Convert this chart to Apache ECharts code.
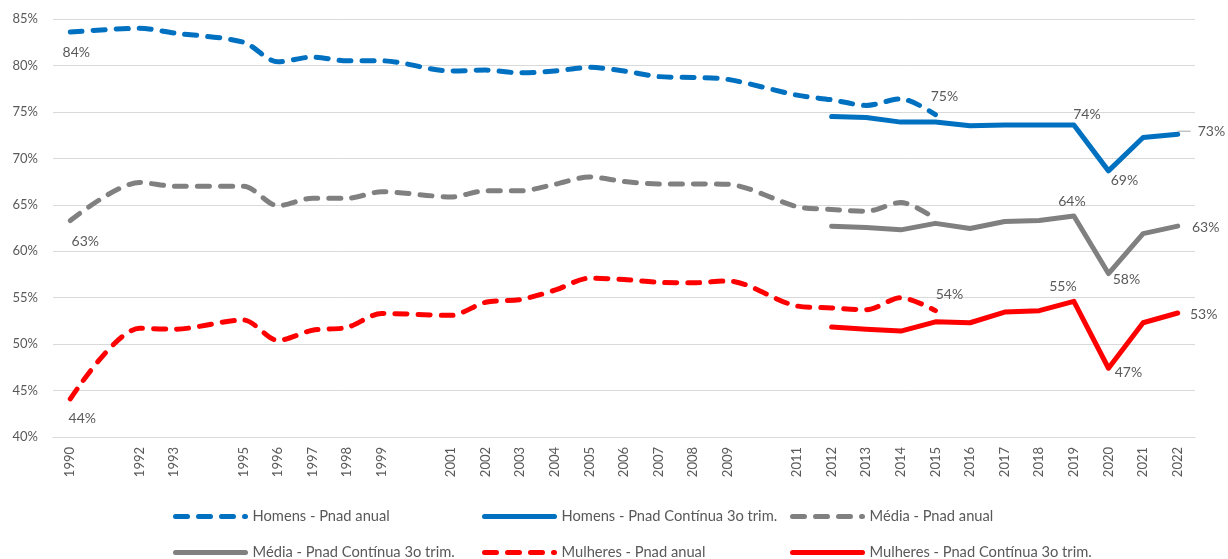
<!DOCTYPE html>
<html>
<head>
<meta charset="utf-8">
<script src="https://cdn.jsdelivr.net/npm/echarts@6/dist/echarts.min.js"></script>
<style>
  html, body { margin: 0; padding: 0; background: #fff; }
  #chart { width: 1228px; height: 559px; }
</style>
</head>
<body>
<div id="chart"></div>
<script>
// Category axis: one slot per year, labels only on surveyed years
const allYears = [];
for (let y = 1990; y <= 2022; y++) allYears.push(y);
const labeledYears = [1990, 1992, 1993, 1995, 1996, 1997, 1998, 1999, 2001, 2002, 2003, 2004,
  2005, 2006, 2007, 2008, 2009, 2011, 2012, 2013, 2014, 2015, 2016, 2017, 2018, 2019, 2020, 2021, 2022];

// Pnad anual (%)
const anualYears = [1990, 1992, 1993, 1995, 1996, 1997, 1998, 1999, 2001, 2002, 2003, 2004,
  2005, 2006, 2007, 2008, 2009, 2011, 2012, 2013, 2014, 2015];
const homensAnual = [83.6, 84.0, 83.5, 82.5, 80.4, 80.9, 80.5, 80.5, 79.4, 79.5, 79.2, 79.4,
  79.8, 79.4, 78.8, 78.7, 78.5, 76.8, 76.3, 75.7, 76.4, 74.7];
const mediaAnual = [63.3, 67.4, 67.0, 67.0, 64.9, 65.7, 65.7, 66.4, 65.85, 66.5, 66.5, 67.2,
  68.0, 67.5, 67.25, 67.25, 67.2, 64.8, 64.5, 64.3, 65.25, 63.5];
const mulheresAnual = [44.1, 51.7, 51.6, 52.6, 50.4, 51.5, 51.8, 53.3, 53.1, 54.5, 54.8, 55.8,
  57.1, 56.95, 56.65, 56.6, 56.8, 54.1, 53.9, 53.7, 55.0, 53.6];

// Pnad Contínua, 3o trimestre (%)
const continuaYears = [2012, 2013, 2014, 2015, 2016, 2017, 2018, 2019, 2020, 2021, 2022];
const homensContinua = [74.5, 74.4, 73.9, 73.9, 73.5, 73.6, 73.6, 73.6, 68.65, 72.25, 72.6];
const mediaContinua = [62.7, 62.55, 62.3, 63.0, 62.45, 63.2, 63.3, 63.8, 57.6, 61.9, 62.7];
const mulheresContinua = [51.85, 51.6, 51.4, 52.4, 52.3, 53.45, 53.6, 54.6, 47.4, 52.3, 53.35];

// Y axis ticks
const yMin = 40, yMax = 85, yStep = 5;

const BLUE = '#0070C0', GREY = '#808080', RED = '#FF0000';
const TEXT = '#595959';
const FONT = 'Lato, "Liberation Sans", sans-serif';

// Which points carry a value label, and where the label sits relative to the point
const labelSpots = {
  'Homens - Pnad anual': { 1990: [6, 20], 2015: [9, -18] },
  'Homens - Pnad Contínua 3o trim.': { 2019: [13, -10], 2020: [16, 10], 2022: 'leader' },
  'Média - Pnad anual': { 1990: [15, 21] },
  'Média - Pnad Contínua 3o trim.': { 2019: [-2, -14], 2020: [18, 6], 2022: [28, 1] },
  'Mulheres - Pnad anual': { 1990: [12, 20], 2015: [14, -16] },
  'Mulheres - Pnad Contínua 3o trim.': { 2019: [-11, -15], 2020: [20, 4], 2022: [26, 1] }
};

function buildData(name, years, values) {
  const spots = labelSpots[name] || {};
  return allYears.map(function (yr) {
    const i = years.indexOf(yr);
    if (i < 0) return null;
    const v = values[i];
    const spot = spots[yr];
    if (!spot) return { value: v };
    if (spot === 'leader') {
      return {
        value: v,
        label: {
          show: true, position: 'right', distance: 0, offset: [0, -3],
          formatter: '{ln|}{t|' + Math.round(v) + '%}',
          rich: {
            ln: { width: 13, height: 1, backgroundColor: '#a6a6a6' },
            t: { fontFamily: FONT, fontSize: 14, color: TEXT, padding: [0, 0, 0, 7] }
          }
        }
      };
    }
    return {
      value: v,
      label: {
        show: true, position: 'inside', offset: spot,
        align: 'center', verticalAlign: 'middle',
        formatter: Math.round(v) + '%'
      }
    };
  });
}

function makeSeries(name, years, values, color, dashed) {
  return {
    name: name,
    type: 'line',
    data: buildData(name, years, values),
    connectNulls: true,
    smooth: dashed ? 0.3 : false,
    symbol: 'circle',
    symbolSize: 0,
    showSymbol: true,
    itemStyle: { color: color },
    lineStyle: {
      color: color, width: 5,
      type: dashed ? [12, 11] : 'solid',
      cap: 'round', join: 'round'
    },
    label: { show: false, fontFamily: FONT, fontSize: 14, color: TEXT },
    emphasis: { disabled: true },
    z: dashed ? 2 : 3
  };
}

const series = [
  makeSeries('Homens - Pnad anual', anualYears, homensAnual, BLUE, true),
  makeSeries('Homens - Pnad Contínua 3o trim.', continuaYears, homensContinua, BLUE, false),
  makeSeries('Média - Pnad anual', anualYears, mediaAnual, GREY, true),
  makeSeries('Média - Pnad Contínua 3o trim.', continuaYears, mediaContinua, GREY, false),
  makeSeries('Mulheres - Pnad anual', anualYears, mulheresAnual, RED, true),
  makeSeries('Mulheres - Pnad Contínua 3o trim.', continuaYears, mulheresContinua, RED, false)
];

// Legend laid out as a 3 x 2 table
const legendCols = [173, 482, 790];
const legendRows = [509, 545];
const legends = series.map(function (s, i) {
  return {
    data: [s.name],
    left: legendCols[i % 3],
    top: legendRows[Math.floor(i / 3)],
    itemWidth: 70,
    itemHeight: 14,
    itemGap: 0,
    padding: 0,
    selectedMode: false,
    itemStyle: { opacity: 0 },
    lineStyle: { width: 5, cap: 'round' },
    textStyle: { fontFamily: FONT, fontSize: 14.7, color: TEXT, padding: [0, 0, 0, 2] }
  };
});

const chart = echarts.init(document.getElementById('chart'), null, { renderer: 'canvas' });
chart.setOption({
  animation: false,
  backgroundColor: '#ffffff',
  textStyle: { fontFamily: FONT },
  grid: { left: 53, right: 33, top: 19, bottom: 122, containLabel: false },
  legend: legends,
  xAxis: {
    type: 'category',
    data: allYears.map(String),
    boundaryGap: true,
    axisLine: { show: true, lineStyle: { color: '#d9d9d9', width: 1 } },
    axisTick: { show: false },
    axisLabel: {
      interval: 0,
      rotate: 90,
      margin: 10,
      fontFamily: FONT,
      fontSize: 13,
      color: TEXT,
      formatter: function (v) { return labeledYears.indexOf(+v) >= 0 ? v : ''; }
    },
    splitLine: { show: false }
  },
  yAxis: {
    type: 'value',
    min: yMin,
    max: yMax,
    interval: yStep,
    axisLine: { show: false },
    axisTick: { show: false },
    axisLabel: {
      margin: 15,
      fontFamily: FONT,
      fontSize: 13,
      color: TEXT,
      formatter: '{value}%'
    },
    splitLine: { lineStyle: { color: '#d9d9d9', width: 1 } }
  },
  series: series
});
</script>
</body>
</html>
